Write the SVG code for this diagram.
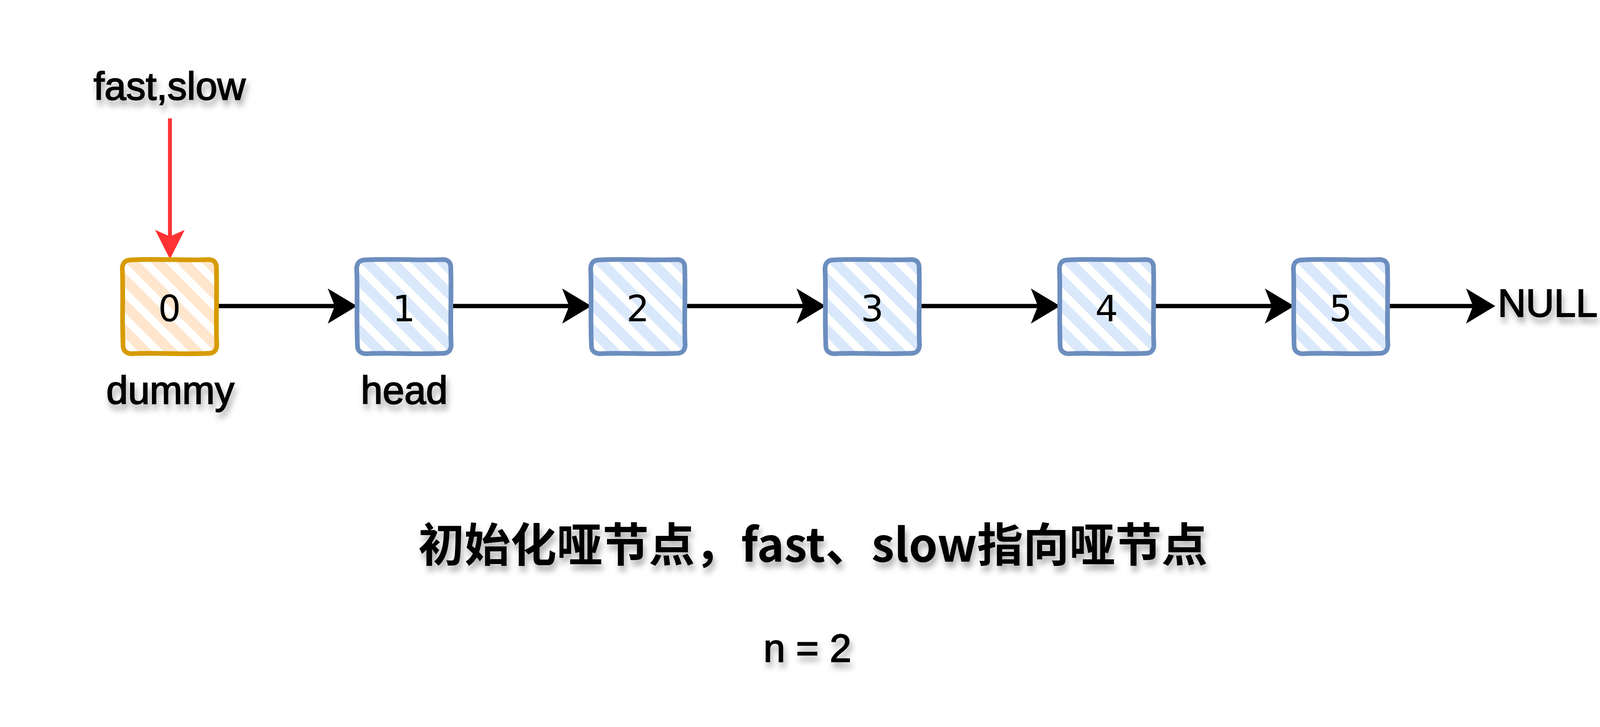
<svg xmlns="http://www.w3.org/2000/svg" width="4530" height="1860" viewBox="0 0 4530 1860">
<style>
.lbl{font-family:"Liberation Sans",Arial,sans-serif;font-size:100px;fill:#000;stroke:#000;stroke-width:2.5px;text-anchor:middle}
.num{font-family:"DejaVu Sans","Liberation Sans",sans-serif;font-size:92px;fill:#000;text-anchor:middle}
.title{font-family:"Noto Sans CJK SC","Liberation Sans",sans-serif;font-size:118px;font-weight:bold;fill:#000;text-anchor:middle}
.bo{fill:none;stroke:#d79b00;stroke-linejoin:round;stroke-linecap:round}
.bb{fill:none;stroke:#6c8ebf;stroke-linejoin:round;stroke-linecap:round}
.w1{stroke-width:12}
.w2{stroke-width:6}
.edge{stroke:#000;stroke-width:11;fill:none}
.red{stroke:#ff3333;stroke-width:10;fill:none}
</style>
<defs>
<pattern id="hO" width="46" height="46" patternUnits="userSpaceOnUse" patternTransform="rotate(-45)"><rect width="46" height="46" fill="#fff"/><rect width="26" height="46" fill="#ffe6cc"/></pattern>
<pattern id="hB" width="46" height="46" patternUnits="userSpaceOnUse" patternTransform="rotate(-45)"><rect width="46" height="46" fill="#fff"/><rect width="26" height="46" fill="#dae8fc"/></pattern>
<path id="sk1" d="M22,2 C80,-2 170,4 222,1 Q242,2 241,24 C243,90 239,170 242,220 Q241,242 218,241 C150,244 80,239 24,242 Q1,241 2,218 C-1,150 3,80 0,24 Q1,2 22,2 Z"/>
<path id="sk2" d="M26,-1 C90,3 160,-1 226,4 Q244,6 240,30 C238,100 244,160 239,224 Q236,244 212,243 C150,239 90,245 20,240 Q-2,236 1,210 C4,150 -3,90 3,20 Q6,-2 30,1"/>
<marker id="aBlk" markerUnits="userSpaceOnUse" markerWidth="76" markerHeight="90" viewBox="0 0 76 90" refX="22" refY="45" orient="auto"><path d="M0,0 L75,45 L0,90 L18,45 Z" fill="#000"/></marker>
<marker id="aRed" markerUnits="userSpaceOnUse" markerWidth="76" markerHeight="76" viewBox="0 0 76 76" refX="22" refY="38" orient="auto"><path d="M0,0 L75,38 L0,76 L17,38 Z" fill="#ff3333"/></marker>
<filter id="sh" x="-20%" y="-30%" width="140%" height="180%"><feDropShadow dx="5" dy="14" stdDeviation="8" flood-color="#000" flood-opacity="0.33"/></filter>
</defs>
<rect width="4530" height="1860" fill="#fff"/>

<g id="connectors">
<line class="red" x1="435" y1="303" x2="435" y2="610" marker-end="url(#aRed)"/>
<line class="edge" x1="558" y1="783" x2="861" y2="783" marker-end="url(#aBlk)"/>
<line class="edge" x1="1158" y1="783" x2="1461" y2="783" marker-end="url(#aBlk)"/>
<line class="edge" x1="1757" y1="783" x2="2061" y2="783" marker-end="url(#aBlk)"/>
<line class="edge" x1="2357" y1="783" x2="2661" y2="783" marker-end="url(#aBlk)"/>
<line class="edge" x1="2957" y1="783" x2="3260" y2="783" marker-end="url(#aBlk)"/>
<line class="edge" x1="3556" y1="783" x2="3775" y2="783" marker-end="url(#aBlk)"/>
</g>

<g id="node0" transform="translate(313,663)">
<rect x="3" y="3" width="236" height="236" rx="20" fill="url(#hO)"/>
<use href="#sk1" class="bo w1"/><use href="#sk2" class="bo w2"/>
<text class="num" x="121" y="159">0</text>
</g>
<g id="node1" transform="translate(913,663)">
<rect x="3" y="3" width="236" height="236" rx="20" fill="url(#hB)"/>
<use href="#sk1" class="bb w1"/><use href="#sk2" class="bb w2"/>
<text class="num" x="121" y="159">1</text>
</g>
<g id="node2" transform="translate(1512,663)">
<rect x="3" y="3" width="236" height="236" rx="20" fill="url(#hB)"/>
<use href="#sk1" class="bb w1"/><use href="#sk2" class="bb w2"/>
<text class="num" x="121" y="159">2</text>
</g>
<g id="node3" transform="translate(2112,663)">
<rect x="3" y="3" width="236" height="236" rx="20" fill="url(#hB)"/>
<use href="#sk1" class="bb w1"/><use href="#sk2" class="bb w2"/>
<text class="num" x="121" y="159">3</text>
</g>
<g id="node4" transform="translate(2712,663)">
<rect x="3" y="3" width="236" height="236" rx="20" fill="url(#hB)"/>
<use href="#sk1" class="bb w1"/><use href="#sk2" class="bb w2"/>
<text class="num" x="121" y="159">4</text>
</g>
<g id="node5" transform="translate(3311,663)">
<rect x="3" y="3" width="236" height="236" rx="20" fill="url(#hB)"/>
<use href="#sk1" class="bb w1"/><use href="#sk2" class="bb w2"/>
<text class="num" x="121" y="159">5</text>
</g>

<g id="label-fastslow" filter="url(#sh)"><text class="lbl" x="434" y="255">fast,slow</text></g>
<g id="label-dummy" filter="url(#sh)"><text class="lbl" x="436" y="1033">dummy</text></g>
<g id="label-head" filter="url(#sh)"><text class="lbl" x="1035" y="1033" font-size="96">head</text></g>
<g id="label-null" filter="url(#sh)"><text class="lbl" x="3962" y="810" font-size="80">NULL</text></g>
<g id="title" filter="url(#sh)"><text class="title" x="2081" y="1437">初始化哑节点，fast、slow指向哑节点</text></g>
<g id="label-n" filter="url(#sh)"><text class="lbl" x="2067" y="1693" font-size="94">n = 2</text></g>
</svg>
